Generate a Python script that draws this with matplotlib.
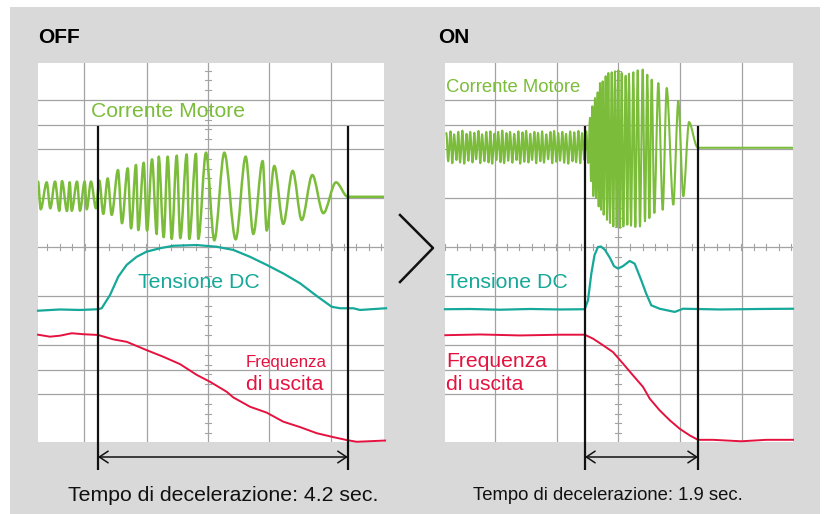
import numpy as np
import matplotlib
matplotlib.use("Agg")
import matplotlib.pyplot as plt
from matplotlib.path import Path
from matplotlib.patches import PathPatch, Rectangle
from matplotlib.lines import Line2D

plt.rcParams['font.family'] = ['Liberation Sans', 'DejaVu Sans']

# ---------------- data (time in s from start of deceleration, level in screen divisions) ----
decel_off = 4.2
decel_on = 1.9

# OFF: motor current extremes (peak / trough alternating)
off_cur_t = [-1.008, -0.963, -0.862, -0.802, -0.723, -0.650, -0.605, -0.521, -0.476, -0.442,
             -0.353, -0.303, -0.224, -0.190, -0.118, -0.034, 0.022, 0.089, 0.163, 0.230,
             0.336, 0.403, 0.499, 0.555, 0.639, 0.677, 0.768, 0.824, 0.908, 0.987,
             1.020, 1.104, 1.171, 1.239, 1.323, 1.383, 1.491, 1.534, 1.647, 1.686,
             1.815, 1.955, 2.123, 2.314, 2.482, 2.610, 2.768, 2.835, 2.963, 3.114,
             3.272, 3.424, 3.602, 3.787, 4.000, 4.197]
off_cur_v = [2.67, 1.54, 2.64, 1.58, 2.67, 1.48, 2.69, 1.47, 2.64, 1.48,
             2.67, 1.48, 2.67, 1.54, 2.67, 1.58, 2.71, 1.35, 2.80, 1.31,
             3.14, 0.97, 3.21, 0.76, 3.35, 0.69, 3.44, 0.67, 3.58, 0.53,
             3.69, 0.40, 3.69, 0.33, 3.73, 0.36, 3.78, 0.33, 3.80, 0.33,
             3.85, 0.27, 3.85, 0.31, 3.69, 0.53, 3.51, 0.67, 3.31, 0.94,
             3.11, 1.10, 2.94, 1.38, 2.64, 2.05]
off_cur_rest = 2.05

off_dc_t = [-1.008, -0.639, -0.303, 0.005, 0.062, 0.202, 0.341, 0.482, 0.650, 0.818,
            1.042, 1.266, 1.659, 1.995, 2.274, 2.555, 2.835, 3.114, 3.395, 3.676,
            3.928, 4.067, 4.291, 4.403, 4.840]
off_dc_v = [-2.60, -2.55, -2.57, -2.54, -2.50, -1.96, -1.21, -0.73, -0.40, -0.19,
            -0.05, 0.05, 0.08, 0.01, -0.12, -0.40, -0.73, -1.08, -1.48, -2.00,
            -2.44, -2.50, -2.50, -2.57, -2.50]

off_freq_t = [-1.008, -0.807, -0.639, -0.442, -0.247, 0.0, 0.257, 0.482, 0.818, 1.097,
              1.378, 1.659, 1.882, 2.163, 2.274, 2.555, 2.835, 3.114, 3.395, 3.676,
              3.955, 4.180, 4.348, 4.824]
off_freq_v = [-3.58, -3.66, -3.62, -3.52, -3.56, -3.59, -3.77, -3.87, -4.21, -4.48,
              -4.78, -5.22, -5.50, -5.91, -6.14, -6.52, -6.76, -7.13, -7.35, -7.60,
              -7.76, -7.88, -7.95, -7.90]

# ON: motor current, steady section before deceleration
on_pre_peak_t = [-2.33, -2.26, -2.20, -2.13, -2.06, -1.99, -1.93, -1.86, -1.79, -1.73,
                 -1.66, -1.59, -1.52, -1.46, -1.39, -1.32, -1.26, -1.19, -1.12, -1.05,
                 -0.99, -0.92, -0.85, -0.79, -0.72, -0.65, -0.58, -0.52, -0.45, -0.38,
                 -0.32, -0.25, -0.18, -0.11, -0.05, 0.02]
on_pre_peak_v = [4.65, 4.72, 4.60, 4.70, 4.75, 4.62, 4.70, 4.66, 4.74, 4.60,
                 4.70, 4.72, 4.63, 4.70, 4.75, 4.65, 4.70, 4.62, 4.72, 4.68,
                 4.74, 4.62, 4.70, 4.66, 4.72, 4.60, 4.70, 4.74, 4.65, 4.70,
                 4.62, 4.72, 4.68, 4.74, 4.65, 4.72]
on_pre_trough_t = [-2.30, -2.23, -2.16, -2.10, -2.03, -1.96, -1.89, -1.83, -1.76, -1.69,
                   -1.62, -1.56, -1.49, -1.42, -1.36, -1.29, -1.22, -1.15, -1.09, -1.02,
                   -0.95, -0.89, -0.82, -0.75, -0.69, -0.62, -0.55, -0.48, -0.42, -0.35,
                   -0.28, -0.21, -0.15, -0.08, -0.01]
on_pre_trough_v = [3.50, 3.42, 3.55, 3.45, 3.40, 3.52, 3.45, 3.58, 3.42, 3.50,
                   3.45, 3.40, 3.55, 3.46, 3.42, 3.52, 3.44, 3.55, 3.40, 3.48,
                   3.45, 3.55, 3.42, 3.50, 3.44, 3.58, 3.42, 3.48, 3.52, 3.44,
                   3.40, 3.50, 3.46, 3.42, 3.55]
# ON: motor current during deceleration (extremes)
on_cur_t = [0.055, 0.084, 0.101, 0.123, 0.139, 0.168, 0.185, 0.213, 0.230, 0.252,
            0.269, 0.297, 0.314, 0.348, 0.370, 0.392, 0.420, 0.449, 0.476, 0.504,
            0.533, 0.560, 0.588, 0.617, 0.644, 0.684, 0.711, 0.739, 0.773, 0.812,
            0.845, 0.886, 0.924, 0.970, 1.008, 1.047, 1.081, 1.121, 1.165, 1.232,
            1.306, 1.373, 1.484, 1.568, 1.652, 1.748, 1.887]
on_cur_v = [3.43, 5.27, 2.69, 5.74, 2.08, 6.08, 2.00, 6.31, 1.66, 6.69,
            1.52, 6.76, 1.32, 6.97, 1.11, 7.10, 0.98, 7.13, 0.84, 7.17,
            0.84, 7.21, 0.78, 7.10, 0.84, 6.99, 0.91, 7.07, 0.87, 7.13,
            0.82, 7.21, 0.84, 7.24, 1.05, 7.03, 1.18, 6.83, 1.39, 6.69,
            1.52, 6.49, 1.73, 5.95, 2.07, 5.10, 4.08]
on_cur_rest = 4.05

on_dc_t = [-2.353, -1.933, -1.429, -0.924, -0.420, -0.005, 0.050, 0.106, 0.160, 0.218,
           0.269, 0.336, 0.420, 0.487, 0.555, 0.639, 0.751, 0.835, 0.946, 1.030,
           1.114, 1.255, 1.508, 1.647, 2.269, 2.941, 3.496]
on_dc_v = [-2.54, -2.53, -2.56, -2.53, -2.55, -2.54, -2.18, -1.09, -0.33, 0.00,
           0.02, -0.12, -0.45, -0.78, -0.88, -0.78, -0.57, -0.68, -1.36, -1.91,
           -2.38, -2.52, -2.65, -2.52, -2.55, -2.53, -2.52]

on_freq_t = [-2.348, -1.765, -1.092, -0.420, -0.005, 0.134, 0.303, 0.471, 0.639, 0.807,
             0.975, 1.088, 1.256, 1.424, 1.592, 1.760, 1.899, 2.151, 2.627, 3.047, 3.496]
on_freq_v = [-3.60, -3.57, -3.61, -3.58, -3.58, -3.74, -4.01, -4.29, -4.76, -5.24,
             -5.71, -6.19, -6.67, -7.07, -7.42, -7.69, -7.87, -7.87, -7.93, -7.87, -7.87]

# ---------------- styling / layout ----------------
W, H = 826, 514
GREEN = '#7bbd3a'
TEAL = '#16a899'
RED = '#e5123f'
GRID = '#a3a3a3'


def fx(px):
    return px / W


def fy(py):
    return 1 - py / H


fig = plt.figure(figsize=(W / 100, H / 100), dpi=100)
fig.patch.set_facecolor('white')
fig.patches.append(Rectangle((fx(10), 0), 810 / W, 507 / H, transform=fig.transFigure,
                             facecolor='#d9d9d9', edgecolor='none', zorder=-5))

PX_PER_S = 59.5
PX_PER_DIV = 24.5


def make_panel(left_px, right_px, t0_px, center_px, vgrid_px):
    ax = fig.add_axes([fx(left_px), fy(442), (right_px - left_px) / W, 379 / H])
    ax.set_zorder(1)
    ax.set_xlim((left_px - t0_px) / PX_PER_S, (right_px - t0_px) / PX_PER_S)
    ax.set_ylim((247 - 442) / PX_PER_DIV, (247 - 63) / PX_PER_DIV)
    ax.set_facecolor('white')
    ax.set_xticks([])
    ax.set_yticks([])
    for s in ax.spines.values():
        s.set_visible(False)
    for gx in vgrid_px:
        ax.axvline((gx - t0_px) / PX_PER_S, color=GRID, lw=0.9, zorder=1)
    for gy in [6, 5, 4, 2, 0, -2, -4, -5, -6]:
        ax.axhline(gy, color=GRID, lw=0.9, zorder=1)
    xc = (center_px - t0_px) / PX_PER_S
    # minor ticks on centre axes
    dx = 3 / PX_PER_S
    dy = 3 / PX_PER_DIV
    for yy in np.arange(-7.6, 7.3, 0.4):
        ax.plot([xc - dx, xc + dx], [yy, yy], color=GRID, lw=0.8, zorder=1)
    step = 61.75 / 5 / PX_PER_S
    xmin, xmax = ax.get_xlim()
    k = int(np.floor((xmin - xc) / step))
    while xc + k * step <= xmax:
        xx = xc + k * step
        if xx >= xmin:
            ax.plot([xx, xx], [-dy, dy], color=GRID, lw=0.8, zorder=1)
        k += 1
    return ax


def wave_path(ax, ts, vs, rest_v, t_end, k=0.33, lw=2.0):
    verts = [(ts[0], vs[0])]
    codes = [Path.MOVETO]
    for i in range(len(ts) - 1):
        dt = ts[i + 1] - ts[i]
        verts += [(ts[i] + k * dt, vs[i]), (ts[i + 1] - k * dt, vs[i + 1]), (ts[i + 1], vs[i + 1])]
        codes += [Path.CURVE4] * 3
    verts += [(ts[-1] + 0.01, rest_v), (t_end, rest_v)]
    codes += [Path.LINETO, Path.LINETO]
    ax.add_patch(PathPatch(Path(verts, codes), fill=False, edgecolor=GREEN, lw=lw,
                           zorder=3, capstyle='round', joinstyle='round'))


def markers(ax, t_end):
    for t in (0.0, t_end):
        ax.plot([t, t], [(247 - 126) / PX_PER_DIV, (247 - 470) / PX_PER_DIV], color='#111111',
                lw=1.6, zorder=5, clip_on=False, solid_capstyle='butt')
    ya = (247 - 457) / PX_PER_DIV
    ax.annotate('', xy=(t_end, ya), xytext=(0.0, ya), annotation_clip=False,
                arrowprops=dict(arrowstyle='<->,head_length=0.45,head_width=0.3', lw=1.1,
                                color='#111111', mutation_scale=14, shrinkA=0, shrinkB=0),
                zorder=5)


# OFF panel
axL = make_panel(38, 384, 98, 208, [84, 147, 208, 269, 331])
wave_path(axL, off_cur_t, off_cur_v, off_cur_rest, 4.84, lw=1.8)
axL.plot(off_dc_t, off_dc_v, color=TEAL, lw=1.6, zorder=3, clip_on=False)
axL.plot(off_freq_t, off_freq_v, color=RED, lw=1.4, zorder=3, clip_on=False)
markers(axL, decel_off)

# ON panel
axR = make_panel(445, 793, 585, 618, [495, 557, 618, 680, 742])
pre_t, pre_v = [], []
for i in range(len(on_pre_peak_t)):
    pre_t.append(on_pre_peak_t[i])
    pre_v.append(on_pre_peak_v[i])
    if i < len(on_pre_trough_t):
        pre_t.append(on_pre_trough_t[i])
        pre_v.append(on_pre_trough_v[i])
wave_path(axR, pre_t + on_cur_t, pre_v + on_cur_v, on_cur_rest, 3.496, k=0.3, lw=1.5)
axR.plot(on_dc_t, on_dc_v, color=TEAL, lw=1.6, zorder=3, clip_on=False)
axR.plot(on_freq_t, on_freq_v, color=RED, lw=1.4, zorder=3, clip_on=False)
markers(axR, decel_on)

# chevron between panels
fig.add_artist(Line2D([fx(400), fx(433), fx(400)], [fy(215), fy(248), fy(282)],
                      transform=fig.transFigure, color='#111111', lw=1.8))

# texts
txt = dict(va='baseline', zorder=10)
fig.text(fx(38), fy(43.3), 'OFF', fontsize=15, fontweight='bold', **txt)
fig.text(fx(438), fy(43.3), 'ON', fontsize=15, fontweight='bold', **txt)
fig.text(fx(91), fy(117), 'Corrente Motore', fontsize=15.2, color=GREEN, **txt)
fig.text(fx(446), fy(91.5), 'Corrente Motore', fontsize=13.3, color=GREEN, **txt)
fig.text(fx(138), fy(288), 'Tensione DC', fontsize=15.3, color=TEAL, **txt)
fig.text(fx(446), fy(288), 'Tensione DC', fontsize=15.3, color=TEAL, **txt)
fig.text(fx(246), fy(367), 'Frequenza', fontsize=12.2, color=RED, **txt)
fig.text(fx(246), fy(390.3), 'di uscita', fontsize=15.2, color=RED, **txt)
fig.text(fx(446), fy(367), 'Frequenza', fontsize=15.2, color=RED, **txt)
fig.text(fx(446), fy(390.3), 'di uscita', fontsize=15.2, color=RED, **txt)
fig.text(fx(68), fy(501), 'Tempo di decelerazione: %.1f sec.' % decel_off, fontsize=15.3,
         color='#111111', **txt)
fig.text(fx(473), fy(500.3), 'Tempo di decelerazione: %.1f sec.' % decel_on, fontsize=13.3,
         color='#111111', **txt)

fig.savefig('out.png', dpi=100, facecolor=fig.get_facecolor())
